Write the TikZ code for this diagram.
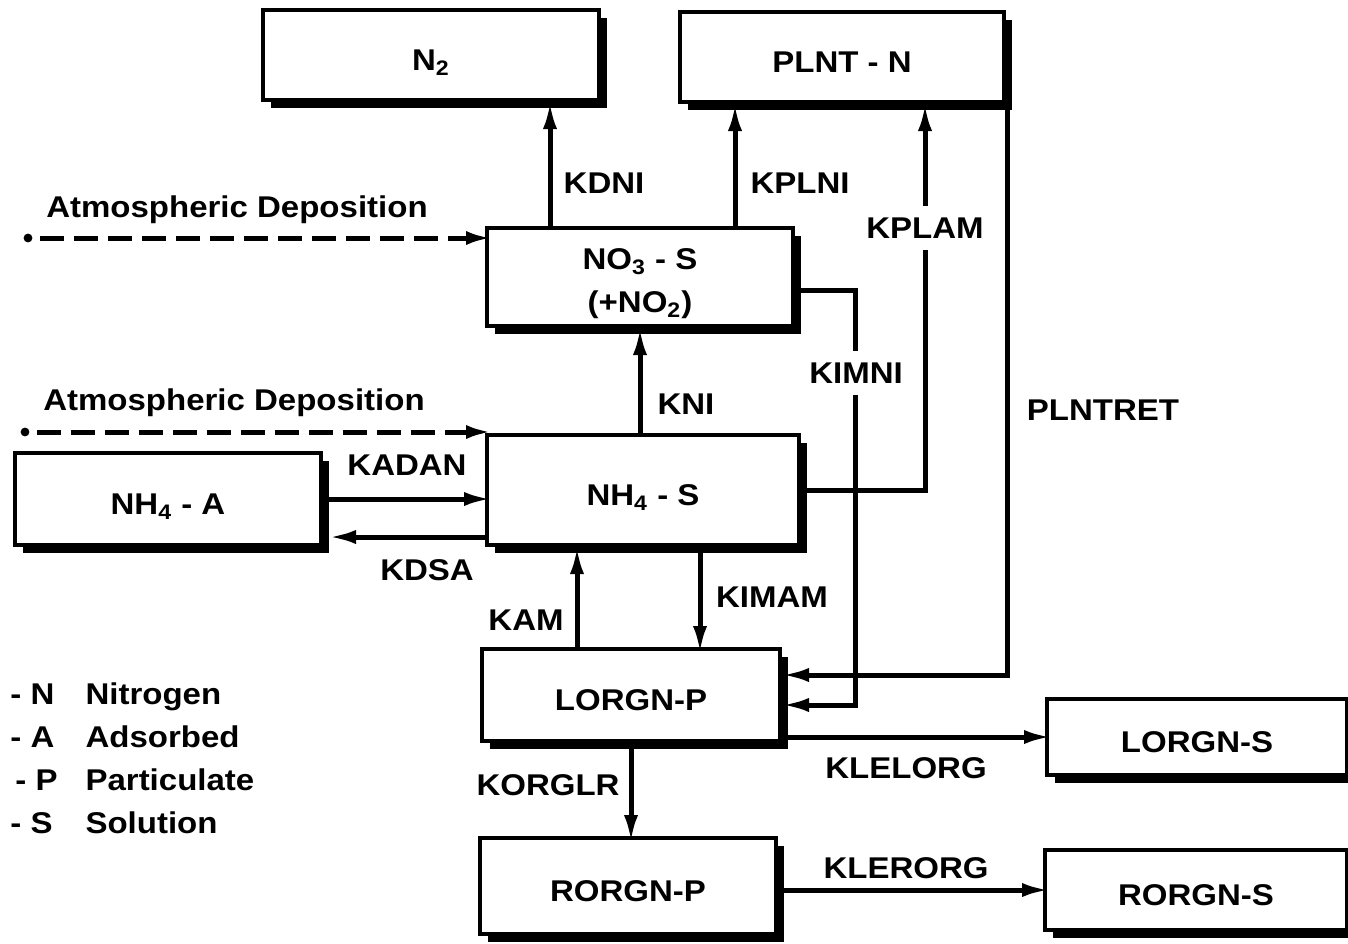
\documentclass[tikz,border=0pt]{standalone}
\usepackage{fontspec}
\setmainfont[FakeStretch=1.1]{Liberation Sans}
\usepackage{tikz}
\usetikzlibrary{shapes,arrows,arrows.meta,positioning}
\usetikzlibrary{shadows}

\begin{document}
\begin{tikzpicture}[x=0.5pt,y=-0.5pt,
	every node/.style={font=\bfseries\fontsize{15}{21.5}\selectfont},
	pool/.style={draw, line width=2pt, fill=white, inner sep=0pt, align=center,
		drop shadow={shadow xshift=4pt, shadow yshift=-4pt, fill=black, opacity=1}},
	low/.style={text height=15.5pt, text depth=0pt},
	flow/.style={line width=2.5pt, shorten >=-3.5pt, -{Latex[length=14pt,width=7pt]}},
	dep/.style={line width=2.5pt, shorten >=-3.5pt, dash pattern=on 12pt off 5pt, -{Latex[length=13pt,width=7pt]}},
	rate/.style={inner sep=1pt},
	gap/.style={rate, fill=white, inner ysep=6pt}]
	\useasboundingbox (0,0) rectangle (1348,943);
	% pools
	\node[pool, low, minimum width=168pt, minimum height=45pt] (n2) at (431,55) {N\textsubscript{2}};
	\node[pool, low, minimum width=162pt, minimum height=45pt] (plnt) at (842,57) {PLNT - N};
	\node[pool, minimum width=153pt, minimum height=49pt] (no3) at (640,277) {\rule{0pt}{17pt}NO\textsubscript{3} - S\\(+NO\textsubscript{2})};
	\node[pool, low, minimum width=156pt, minimum height=55pt] (nh4s) at (643,490) {NH\textsubscript{4} - S};
	\node[pool, low, minimum width=153pt, minimum height=46pt] (nh4a) at (168,499) {NH\textsubscript{4} - A};
	\node[pool, low, minimum width=149pt, minimum height=46pt] (lorgnp) at (631,695) {LORGN-P};
	\node[pool, low, minimum width=150pt, minimum height=38pt] (lorgns) at (1197,737) {LORGN-S};
	\node[pool, low, minimum width=148pt, minimum height=48pt] (rorgnp) at (628,886) {RORGN-P};
	\node[pool, low, minimum width=151pt, minimum height=40pt] (rorgns) at (1196,890) {RORGN-S};
	% bends and free ends
	\coordinate (atmno3) at (28,238);
	\coordinate (atmnh4) at (25,432);
	\coordinate (kplambend) at (925,490);
	\coordinate (kimnibend) at (855,705);
	\coordinate (retbend) at (1007,675);
	% atmospheric deposition
	\fill (atmno3) circle (2.2pt);
	\fill (atmnh4) circle (2.2pt);
	\draw[dep] ([xshift=6pt]atmno3) -- (atmno3 -| no3.west);
	\draw[dep] ([xshift=6pt]atmnh4) -- (atmnh4 -| nh4s.west);
	\node (atmlbl1) at (237,210) {Atmospheric Deposition};
	\node (atmlbl2) at (234,403) {Atmospheric Deposition};
	% transformations
	\draw[flow] ([xshift=-45pt]no3.north) -- ([xshift=-45pt,yshift=-3pt]no3.north |- n2.south);
	\draw[flow] ([xshift=47.5pt]no3.north) -- ([xshift=47.5pt,yshift=-3pt]no3.north |- plnt.south);
	\draw[flow] (no3.south |- nh4s.north) -- ([yshift=-3pt]no3.south);
	\draw[flow] (nh4s.east) -- (kplambend) -- ([yshift=-3pt]kplambend |- plnt.south);
	\draw[flow] ([yshift=-6.5pt]no3.east) -| (kimnibend) -- ([xshift=3pt]kimnibend -| lorgnp.east);
	\draw[flow] (plnt.south east -| retbend) -- (retbend) -- ([xshift=3pt]retbend -| lorgnp.east);
	\draw[flow] ([xshift=3pt]nh4a.east) -- (nh4a.east -| nh4s.west);
	\draw[flow] ([yshift=-19pt]nh4a.east -| nh4s.west) -- ([xshift=6pt,yshift=-19pt]nh4a.east);
	\draw[flow] ([xshift=-27pt]lorgnp.north) -- ([xshift=-27pt,yshift=-3pt]lorgnp.north |- nh4s.south);
	\draw[flow] ([xshift=28.5pt,yshift=-3pt]nh4s.south) -- ([xshift=28.5pt]nh4s.south |- lorgnp.north);
	\draw[flow] ([yshift=-3pt]lorgnp.south) -- (lorgnp.south |- rorgnp.north);
	\draw[flow] ([xshift=3pt]lorgns.west -| lorgnp.east) -- (lorgns.west);
	\draw[flow] ([xshift=3pt]rorgns.west -| rorgnp.east) -- (rorgns.west);
	% rate labels
	\node[rate] (kdni) at (604,183) {KDNI};
	\node[rate] (kplni) at (800,183) {KPLNI};
	\node[gap] (kplam) at (925,228) {KPLAM};
	\node[gap] (kimni) at (856,373) {KIMNI};
	\node[rate] (plntret) at (1103,410) {PLNTRET};
	\node[rate] (kni) at (686,404) {KNI};
	\node[rate] (kadan) at (407,465) {KADAN};
	\node[rate] (kdsa) at (427,570) {KDSA};
	\node[rate] (kam) at (526,620) {KAM};
	\node[rate] (kimam) at (772,597) {KIMAM};
	\node[rate] (klelorg) at (906,768) {KLELORG};
	\node[rate] (korglr) at (548,785) {KORGLR};
	\node[rate] (klerorg) at (906,868) {KLERORG};
	% legend
	\node[anchor=north west, inner sep=0pt] (legend) at (10,674) {%
		\begin{tabular}{@{}l@{\hspace{14pt}}l@{}}
		- N & Nitrogen\\
		- A & Adsorbed\\
		\,- P & Particulate\\
		- S & Solution
		\end{tabular}};
\end{tikzpicture}
\end{document}
